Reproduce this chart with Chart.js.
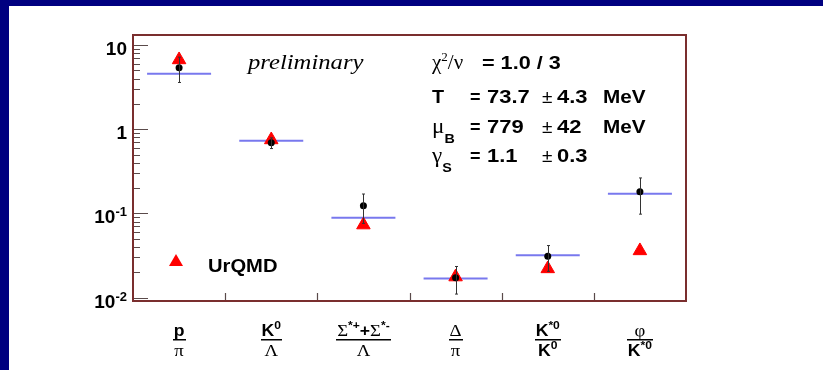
<!DOCTYPE html>
<html>
<head>
<meta charset="utf-8">
<script src="https://cdn.jsdelivr.net/npm/chart.js@4"></script>
<style>
html, body { margin: 0; padding: 0; background: #fff; }
#wrap { position: relative; width: 823px; height: 370px; overflow: hidden; }
#myChart { position: absolute; left: 0; top: 0; }
#barTop { position: absolute; left: 0; top: 0; width: 823px; height: 6px; background: #000080; }
#barLeft { position: absolute; left: 0; top: 0; width: 9px; height: 370px; background: #000080; }
</style>
</head>
<body>
<div id="wrap">
  <canvas id="myChart" width="823" height="370"></canvas>
  <div id="barTop"></div>
  <div id="barLeft"></div>
</div>
<script>
// particle ratios
const categories  = ['p/π', 'K0/Λ', '(Σ*+ + Σ*-)/Λ', 'Δ/π', 'K*0/K0', 'φ/K*0'];
const measured    = [5.4, 0.69, 0.123, 0.0172, 0.031, 0.181];
const measuredErr = [1.8, 0.10, 0.047, 0.0062, 0.0105, 0.083];
const fitValues   = [4.56, 0.73, 0.089, 0.0168, 0.0319, 0.171];
const urqmdValues = [6.7, 0.75, 0.073, 0.0176, 0.022, 0.036];

const yMin = 0.0091;
const yMax = 13.2;
const yMajorTicks = [10, 1, 0.1, 0.01];
const yTickLabels = [['10', ''], ['1', ''], ['10', '-1'], ['10', '-2']];

// fonts
const SANS  = 'bold 16px "Liberation Sans"';
const SUP   = 'bold 11px "Liberation Sans"';
const GREEK = '17px "Liberation Serif"';

// x labels as fractions (text pieces only)
const xLabelNum = [
    [{t: 'p', f: SANS}],
    [{t: 'K', f: SANS}, {t: '0', f: SUP, dy: -7}],
    [{t: 'Σ', f: GREEK}, {t: '*+', f: SUP, dy: -7}, {t: '+', f: SANS}, {t: 'Σ', f: GREEK}, {t: '*-', f: SUP, dy: -7}],
    [{t: 'Δ', f: GREEK}],
    [{t: 'K', f: SANS}, {t: '*0', f: SUP, dy: -7}],
    [{t: 'φ', f: GREEK}]
];
const xLabelDen = [
    [{t: 'π', f: GREEK}],
    [{t: 'Λ', f: GREEK}],
    [{t: 'Λ', f: GREEK}],
    [{t: 'π', f: GREEK}],
    [{t: 'K', f: SANS}, {t: '0', f: SUP, dy: -7}],
    [{t: 'K', f: SANS}, {t: '*0', f: SUP, dy: -7}]
];

function partsWidth(ctx, parts, sx){
    let w = 0;
    parts.forEach(p => { ctx.font = p.f; w += ctx.measureText(p.t).width * sx; });
    return w;
};

function drawParts(ctx, parts, x, y, sx){
    parts.forEach(p => {
        ctx.font = p.f;
        ctx.save();
        ctx.translate(x, y + (p.dy || 0));
        ctx.scale(sx, 1);
        ctx.fillText(p.t, 0, 0);
        ctx.restore();
        x += ctx.measureText(p.t).width * sx;
    });
};

const rootStyle = {
    id: 'rootStyle',
    afterDatasetsDraw(chart){
        const ctx = chart.ctx;
        const xs = chart.scales.x;
        const ys = chart.scales.y;
        // error bars
        ctx.save();
        ctx.strokeStyle = '#333';
        ctx.lineWidth = 1;
        measured.forEach((v, i) => {
            const x = Math.round(xs.getPixelForValue(i)) + 0.5;
            const yTop = ys.getPixelForValue(v + measuredErr[i]);
            const yBot = ys.getPixelForValue(v - measuredErr[i]);
            ctx.beginPath();
            ctx.moveTo(x, yTop); ctx.lineTo(x, yBot);
            ctx.moveTo(x - 1.5, yTop); ctx.lineTo(x + 1.5, yTop);
            ctx.moveTo(x - 1.5, yBot); ctx.lineTo(x + 1.5, yBot);
            ctx.stroke();
        });
        ctx.restore();
    },
    afterDraw(chart){
        const ctx = chart.ctx;
        const a = chart.chartArea;
        const xs = chart.scales.x;
        const ys = chart.scales.y;
        ctx.save();

        // ticks inside the frame
        ctx.strokeStyle = '#5a4a4a';
        ctx.lineWidth = 1.2;
        ctx.beginPath();
        for (let e = -2; e <= 1; e++){
            for (let m = 1; m <= 9; m++){
                const v = m * Math.pow(10, e);
                if (v < yMin || v > yMax) continue;
                const y = Math.round(ys.getPixelForValue(v)) + 0.5;
                ctx.moveTo(a.left, y);
                ctx.lineTo(a.left + (m === 1 ? 15 : 7), y);
            }
        }
        for (let i = 0; i < categories.length - 1; i++){
            const x = Math.round((xs.getPixelForValue(i) + xs.getPixelForValue(i + 1)) / 2) + 0.5;
            ctx.moveTo(x, a.bottom);
            ctx.lineTo(x, a.bottom - 8);
        }
        ctx.stroke();

        // frame
        ctx.strokeStyle = '#7a2e2e';
        ctx.lineWidth = 2;
        ctx.strokeRect(a.left, a.top, a.right - a.left, a.bottom - a.top);

        ctx.fillStyle = '#000';
        ctx.textBaseline = 'alphabetic';

        // y tick labels
        yMajorTicks.forEach((v, i) => {
            const y = ys.getPixelForValue(v) + 10;
            const base = [{t: yTickLabels[i][0], f: 'bold 19px "Liberation Sans"'}];
            if (yTickLabels[i][1]) base.push({t: yTickLabels[i][1], f: 'bold 13px "Liberation Sans"', dy: -7});
            const w = partsWidth(ctx, base, 1);
            drawParts(ctx, base, 127 - w, y, 1);
        });

        // x labels as fractions
        categories.forEach((c, i) => {
            const cx = xs.getPixelForValue(i);
            const wn = partsWidth(ctx, xLabelNum[i], 1.1);
            const wd = partsWidth(ctx, xLabelDen[i], 1.1);
            drawParts(ctx, xLabelNum[i], cx - wn / 2, 336, 1.1);
            drawParts(ctx, xLabelDen[i], cx - wd / 2, 356, 1.1);
            const lw = Math.max(wn, wd) + 2;
            ctx.fillRect(Math.round(cx - lw / 2), 339, Math.round(lw), 1.5);
        });

        // preliminary
        ctx.font = 'italic 22px "Liberation Serif"';
        ctx.save();
        ctx.translate(248, 69);
        ctx.scale(1.12, 1);
        ctx.fillText('preliminary', 0, 0);
        ctx.restore();

        // fit results
        const B = 'bold 18px "Liberation Sans"';
        const Bs = 'bold 13px "Liberation Sans"';
        const R = '21px "Liberation Serif"';
        const PM = '19px "Liberation Sans"';
        drawParts(ctx, [{t: 'χ', f: R}, {t: '2', f: '13px "Liberation Serif"', dy: -8}, {t: '/ν', f: R}], 432, 69, 1);
        drawParts(ctx, [{t: '= 1.0 / 3', f: B}], 482, 69, 1.2);
        const rows = [
            {y: 103, sym: [{t: 'T', f: B}], val: '73.7', err: '4.3', unit: 'MeV'},
            {y: 133, sym: [{t: 'μ', f: R}, {t: 'B', f: Bs, dy: 10}], val: '779', err: '42', unit: 'MeV'},
            {y: 162, sym: [{t: 'γ', f: R}, {t: 'S', f: Bs, dy: 10}], val: '1.1', err: '0.3', unit: ''}
        ];
        rows.forEach(r => {
            drawParts(ctx, r.sym, 432, r.y, 1.1);
            drawParts(ctx, [{t: '=', f: B}], 470, r.y, 1);
            drawParts(ctx, [{t: r.val, f: B}], 487, r.y, 1.22);
            drawParts(ctx, [{t: '±', f: PM}], 542, r.y, 1);
            drawParts(ctx, [{t: r.err, f: B}], 557, r.y, 1.22);
            if (r.unit) drawParts(ctx, [{t: r.unit, f: B}], 603, r.y, 1.15);
        });

        // legend
        const lx = 176, ly = 262;
        ctx.fillStyle = '#ff0000';
        ctx.beginPath();
        ctx.moveTo(lx, ly - 8);
        ctx.lineTo(lx + 7, ly + 4);
        ctx.lineTo(lx - 7, ly + 4);
        ctx.closePath();
        ctx.fill();
        ctx.fillStyle = '#000';
        drawParts(ctx, [{t: 'UrQMD', f: B}], 208, 272, 1.12);

        ctx.restore();
    }
};

const myChart = document.getElementById('myChart');
const chart = new Chart(myChart, {
    type: 'line',
    data: {
        labels: categories,
        datasets: [
            {
                label: 'data',
                data: measured,
                showLine: false,
                pointStyle: 'circle',
                pointRadius: 3.5,
                pointBackgroundColor: '#000',
                pointBorderColor: '#000',
                pointBorderWidth: 0,
                order: 0
            },
            {
                label: 'UrQMD',
                data: urqmdValues,
                showLine: false,
                pointStyle: 'triangle',
                pointRadius: 7.8,
                pointBackgroundColor: '#ff0000',
                pointBorderColor: '#ff0000',
                pointBorderWidth: 1,
                order: 1
            },
            {
                label: 'fit',
                data: fitValues,
                showLine: false,
                pointStyle: 'line',
                pointRadius: 32,
                pointBorderColor: '#7878ee',
                pointBackgroundColor: '#7878ee',
                pointBorderWidth: 2,
                order: 2
            }
        ]
    },
    options: {
        responsive: false,
        animation: false,
        events: [],
        layout: {padding: {left: 0, top: 35, right: 137, bottom: 0}},
        plugins: {legend: {display: false}, tooltip: {enabled: false}},
        scales: {
            x: {
                type: 'category',
                offset: true,
                grid: {display: false},
                border: {display: false},
                ticks: {display: false},
                afterFit(s){ s.height = 69; }
            },
            y: {
                type: 'logarithmic',
                min: yMin,
                max: yMax,
                grid: {display: false},
                border: {display: false},
                ticks: {display: false},
                afterFit(s){ s.width = 133; }
            }
        }
    },
    plugins: [rootStyle]
});
</script>
</body>
</html>
